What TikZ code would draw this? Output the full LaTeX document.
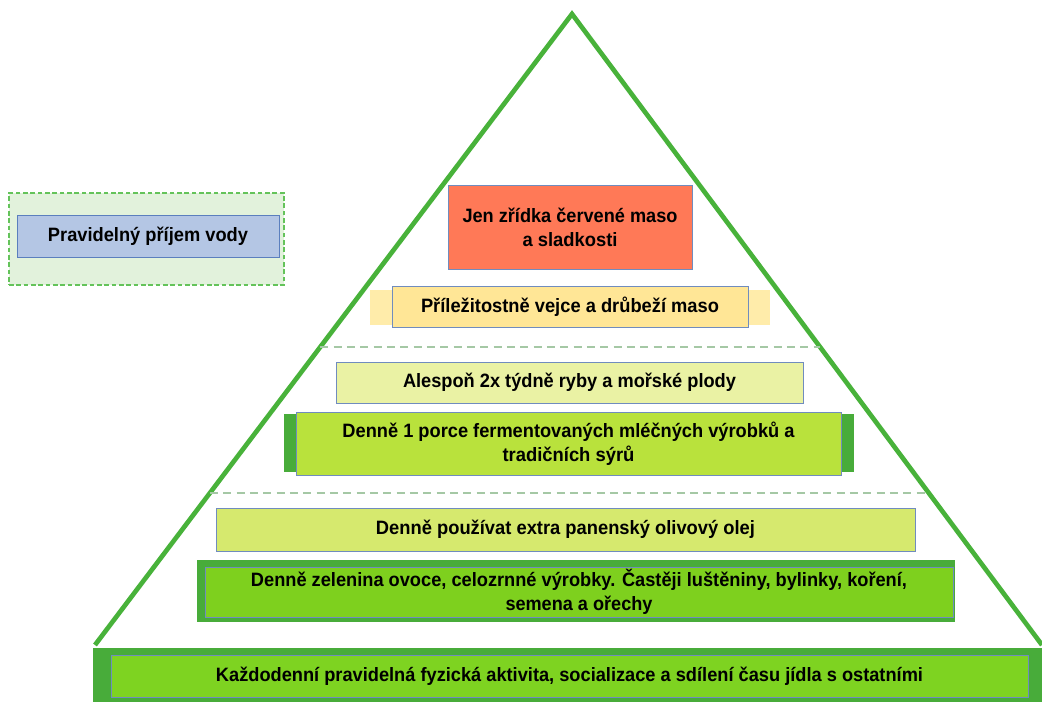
\documentclass[tikz,border=0pt]{standalone}
\usepackage{fontspec}
\setmainfont{Liberation Sans}
\usepackage{graphicx}
\usetikzlibrary{calc}
\definecolor{triG}{RGB}{72,178,58}
\definecolor{redF}{RGB}{255,121,87}
\definecolor{boxB}{RGB}{112,140,190}
\definecolor{yelS}{RGB}{255,236,170}
\definecolor{yelF}{RGB}{255,230,150}
\definecolor{aleF}{RGB}{234,242,164}
\definecolor{dkG}{RGB}{72,172,58}
\definecolor{denF}{RGB}{185,226,60}
\definecolor{oliF}{RGB}{214,233,110}
\definecolor{zelF}{RGB}{126,208,30}
\definecolor{botF}{RGB}{126,211,33}
\definecolor{waterBg}{RGB}{226,242,220}
\definecolor{waterDash}{RGB}{100,195,90}
\definecolor{waterF}{RGB}{180,198,228}
\definecolor{waterB}{RGB}{91,127,190}
\definecolor{sepC}{RGB}{165,200,165}
\newcommand\fw[2]{\resizebox{#1}{\height}{#2}}
\tikzset{
  pbox/.style={draw=boxB, line width=0.6pt, inner sep=0pt, align=center,
    font=\fontsize{14.5}{18}\selectfont\bfseries, text=black},
  strip/.style={draw=none, inner sep=0pt},
  sep/.style={draw=sepC, line width=1pt, dash pattern=on 6pt off 4pt},
  tri/.style={draw=triG, line width=3.5pt}
}
\begin{document}
\begin{tikzpicture}[x=0.75pt, y=-0.75pt]
\useasboundingbox[fill=white] (0,0) rectangle (1042,702);
% triangle
\coordinate (apex) at (572,14);
\coordinate (bl) at (95,645);
\coordinate (br) at (1042,645);
\draw[tri] (bl) -- (apex) -- (br);
% separators
\coordinate (s1l) at ($(apex)!{(347-14)/(645-14)}!(bl)$);
\coordinate (s1r) at ($(apex)!{(347-14)/(645-14)}!(br)$);
\coordinate (s2l) at ($(apex)!{(493-14)/(645-14)}!(bl)$);
\coordinate (s2r) at ($(apex)!{(493-14)/(645-14)}!(br)$);
\draw[sep] (s1l) -- (s1r);
\draw[sep] (s2l) -- (s2r);
% water
\node[draw=waterDash, fill=waterBg, line width=1.6pt, dash pattern=on 3.5pt off 2pt,
  inner sep=0pt, minimum width={275*0.75pt}, minimum height={92*0.75pt}] (wbg) at (146.5,239) {};
\node[pbox, draw=waterB, fill=waterF, minimum width={262*0.75pt}, minimum height={42*0.75pt}] (water) at (148,236)
  {\fw{150pt}{Pravidelný příjem vody}};
% red
\node[pbox, fill=redF, minimum width={244*0.75pt}, minimum height={84*0.75pt}] (red) at (570,227)
  {\fw{161.25pt}{Jen zřídka červené maso}\\\fw{71.25pt}{a sladkosti}};
% yellow
\node[strip, fill=yelS, minimum width={400*0.75pt}, minimum height={35*0.75pt}] (ystrip) at (570,307.5) {};
\node[pbox, fill=yelF, minimum width={356*0.75pt}, minimum height={41*0.75pt}] (egg) at (570,306.5)
  {\fw{223.5pt}{Příležitostně vejce a drůbeží maso}};
% fish
\node[pbox, fill=aleF, minimum width={467*0.75pt}, minimum height={41*0.75pt}] (fish) at (569.5,382.5)
  {\fw{249.75pt}{Alespoň 2x týdně ryby a mořské plody}};
% dairy
\node[strip, fill=dkG, minimum width={570*0.75pt}, minimum height={58*0.75pt}] (dstrip) at (569,443) {};
\node[pbox, fill=denF, minimum width={545*0.75pt}, minimum height={63*0.75pt}] (dairy) at (568.5,443.5)
  {\fw{339pt}{Denně 1 porce fermentovaných mléčných výrobků a}\\\fw{99pt}{tradičních sýrů}};
% olive oil
\node[pbox, fill=oliF, minimum width={699*0.75pt}, minimum height={43*0.75pt}] (oil) at (565.5,529.5)
  {\fw{284.25pt}{Denně používat extra panenský olivový olej}};
% vegetables
\node[strip, fill=dkG, minimum width={758*0.75pt}, minimum height={62*0.75pt}] (vframe) at (576,591) {};
\node[pbox, fill=zelF, minimum width={748*0.75pt}, minimum height={50*0.75pt}] (veg) at (579,592)
  {\fw{492pt}{Denně zelenina ovoce, celozrnné výrobky. Častěji luštěniny, bylinky, koření,}\\\fw{110.25pt}{semena a ořechy}};
% base
\node[strip, fill=dkG, minimum width={949*0.75pt}, minimum height={56*0.75pt}] (bframe) at (567.5,676) {};
\node[pbox, fill=botF, minimum width={917*0.75pt}, minimum height={42*0.75pt}] (base) at (569.5,676)
  {\fw{530.25pt}{Každodenní pravidelná fyzická aktivita, socializace a sdílení času jídla s ostatními}};
\end{tikzpicture}
\end{document}
